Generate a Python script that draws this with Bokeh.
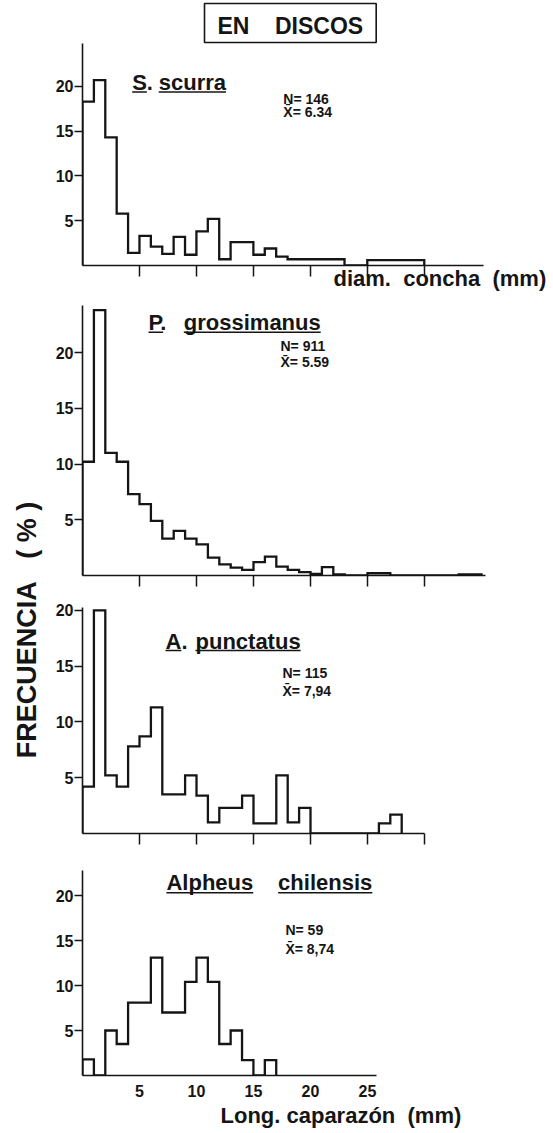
import math
from bokeh.plotting import figure
from bokeh.models import Range1d, FixedTicker, Label, Title, CustomJSTickFormatter
from bokeh.layouts import row, column
from bokeh.embed import file_html
from bokeh.resources import INLINE

# ---------------- data ----------------
# S. scurra : diam. concha (mm), % frequency per class
scurra_edges = [0, 1, 2, 3, 4, 5, 6, 7, 8, 9, 10, 11, 12, 13, 15, 16, 17, 18, 23, 25, 30]
scurra_pct = [18.3, 20.7, 14.3, 5.8, 1.4, 3.3, 2.1, 1.3, 3.2, 1.2, 3.8, 5.2, 0.7, 2.6,
              1.2, 1.9, 1.0, 0.7, 0.0, 0.6]

# P. grossimanus : Long. caparazón (mm)
gross_edges = [0, 1, 2, 3, 4, 5, 6, 7, 8, 9, 10, 11, 12, 13, 14, 15, 16, 17, 18, 19, 20,
               21, 22, 23, 25, 27, 33, 35]
gross_pct = [10.2, 23.8, 11.0, 10.2, 7.3, 6.4, 4.9, 3.3, 4.0, 3.3, 2.8, 1.6, 1.0, 0.7,
             0.5, 1.2, 1.7, 0.8, 0.5, 0.3, 0.15, 0.75, 0.1, 0.0, 0.2, 0.0, 0.1]

# A. punctatus
punct_edges = [0, 1, 2, 3, 4, 5, 6, 7, 9, 10, 11, 12, 14, 15, 17, 18, 19, 20, 26, 27, 28]
punct_pct = [4.2, 20.0, 5.2, 4.2, 7.8, 8.7, 11.3, 3.5, 5.2, 3.4, 1.0, 2.3, 3.4, 0.9,
             5.2, 1.0, 2.3, 0.0, 0.9, 1.7]

# Alpheus chilensis
alph_edges = [0, 1, 2, 3, 4, 6, 7, 9, 10, 11, 12, 13, 14, 15, 16, 17]
alph_pct = [1.8, 0.0, 5.0, 3.5, 8.1, 13.1, 7.0, 10.4, 13.1, 10.4, 3.5, 5.0, 1.7, 0.0, 1.7]

y_ticks = [5, 10, 15, 20]
x_ticks_top = [5, 10, 15, 20, 25, 30]
x_ticks_bottom = [5, 10, 15, 20, 25]

NB = "\u00a0"
species = [("S.", "scurra"), ("P.", "grossimanus"), ("A.", "punctatus"), ("Alpheus", "chilensis")]
stats_n = ["N= 146", "N= 911", "N= 115", "N= 59"]
stats_mean = ["X\u0304= 6.34", "X\u0304= 5.59", "X\u0304= 7,94", "X\u0304= 8,74"]
title_text = "EN" + NB * 4 + "DISCOS"
xlabel_top = "diam." + NB * 2 + "concha" + NB * 2 + "(mm)"
xlabel_bottom = "Long." + NB + "caparazón" + NB * 2 + "(mm)"
ylabel_text = "FRECUENCIA" + NB * 3 + "(" + NB + "%" + NB + ")"

# ---------------- style ----------------
FONT = "Liberation Sans"
INK = "#151515"
PXMM = 11.4          # px per mm on every panel
FL = 82              # page x of the frames' left edge
LEFT_W = 50
TOTAL_W = 503
PAGE_H = 1132


def step_xy(edges, pct):
    xs, ys = [edges[0]], [0.0]
    for i, h in enumerate(pct):
        xs += [edges[i], edges[i + 1]]
        ys += [h, h]
    xs.append(edges[-1])
    ys.append(0.0)
    return xs, ys


def make_panel(edges, pct, x_end, fh, ppu, base, top_b, bot_b, xticks, labels_on):
    fw = round(x_end * PXMM)
    y_end = fh / ppu
    p = figure(frame_width=fw, frame_height=fh,
               x_range=Range1d(0, x_end), y_range=Range1d(0, y_end),
               min_border_left=FL - LEFT_W, min_border_right=TOTAL_W - (FL - LEFT_W) - fw,
               min_border_top=top_b, min_border_bottom=bot_b,
               toolbar_location=None, output_backend="svg",
               background_fill_color="white", border_fill_color="white",
               outline_line_color=None)
    p.grid.visible = False
    for ax in (p.xaxis[0], p.yaxis[0]):
        ax.axis_line_color = INK
        ax.axis_line_width = 1.6
        ax.major_tick_line_color = INK
        ax.major_tick_line_width = 1.5
        ax.minor_tick_line_color = None
        ax.major_tick_in = 0
        ax.major_label_text_font = FONT
        ax.major_label_text_font_style = "bold"
        ax.major_label_text_font_size = "16px"
        ax.major_label_text_color = INK
    p.yaxis.ticker = FixedTicker(ticks=y_ticks)
    p.yaxis.major_tick_out = 8
    p.yaxis.major_label_standoff = 1
    p.xaxis.ticker = FixedTicker(ticks=xticks)
    if labels_on:
        p.xaxis.major_tick_out = 0
        p.xaxis.major_label_standoff = 9
    else:
        p.xaxis.major_tick_out = 11
        p.xaxis.major_label_standoff = 0
        p.xaxis.major_label_text_font_size = "1px"
        p.xaxis.formatter = CustomJSTickFormatter(code="return ''")
    xs, ys = step_xy(edges, pct)
    p.line(xs, ys, line_color=INK, line_width=2.3, line_join="miter")

    def gx(px):
        return (px - FL) / PXMM

    def gy(py):
        return (base - py) / ppu

    p._gx, p._gy = gx, gy
    return p


def add_text(p, px, py, text, size, align="left"):
    p.add_layout(Label(x=p._gx(px), y=p._gy(py), text=text, text_font=FONT,
                       text_font_style="bold", text_font_size=f"{size}px",
                       text_color=INK, text_align=align, text_baseline="middle"))


def underline(p, px0, px1, py):
    p.segment(x0=[p._gx(px0)], y0=[p._gy(py)], x1=[p._gx(px1)], y1=[p._gy(py)],
              line_color=INK, line_width=1.6)


def species_label(p, i, px_a, px_b, py_mid, py_ul, wa, wb):
    a, b = species[i]
    add_text(p, px_a, py_mid, a, 22)
    add_text(p, px_b, py_mid, b, 22)
    underline(p, px_a, px_a + wa, py_ul)
    underline(p, px_b, px_b + wb, py_ul)


def stats_label(p, i, px, py1, py2):
    add_text(p, px, py1, stats_n[i], 14)
    add_text(p, px, py2, stats_mean[i], 14)


def side_title(p, text, size, where, align, offset, standoff, **kw):
    t = Title(text=text, text_font=FONT, text_font_style="bold",
              text_font_size=f"{size}px", text_color=INK, align=align,
              offset=offset, **kw)
    try:
        t.standoff = standoff
    except Exception:
        t.standoff = 0
    p.add_layout(t, where)


# Panel 1 : S. scurra  (frame 43..265)
p1 = make_panel(scurra_edges, scurra_pct, 35.2, 222, 8.96, 265, 43, 38, x_ticks_top, False)
species_label(p1, 0, 131.7, 158.3, 82.2, 91.5, 14.7, 67.3)
stats_label(p1, 0, 283, 98, 111)
side_title(p1, title_text, 23, "above", "left", 204 - FL, 2,
           border_line_color=INK, border_line_width=1.6, background_fill_color="white",
           padding=dict(left=13, right=13, top=9, bottom=4))
side_title(p1, xlabel_top, 22, "below", "left", 333 - FL, -28)

# Panel 2 : P. grossimanus (frame 305..575)
p2 = make_panel(gross_edges, gross_pct, 35.35, 270, 11.15, 575, 2, 25, x_ticks_top, False)
species_label(p2, 1, 148, 183.3, 321.5, 331.7, 14.7, 136.9)
stats_label(p2, 1, 280, 345.3, 361.7)

# Panel 3 : A. punctatus (frame 607..833)
p3 = make_panel(punct_edges, punct_pct, 30.0, 226, 11.16, 833, 7, 25, x_ticks_top, False)
species_label(p3, 2, 165, 195, 640.5, 650, 15.9, 105.1)
stats_label(p3, 2, 282, 672.3, 690)

# Panel 4 : Alpheus chilensis (frame 870..1075)
p4 = make_panel(alph_edges, alph_pct, 25.8, 205, 9.0, 1075, 12, 57, x_ticks_bottom, True)
species_label(p4, 3, 166, 277.7, 881.5, 892.3, 86.8, 94.2)
stats_label(p4, 3, 285, 929, 948)
side_title(p4, xlabel_bottom, 22, "below", "left", 220 - FL, 2)

# Left strip with the rotated y title
left = figure(width=LEFT_W, height=PAGE_H, x_range=Range1d(0, LEFT_W), y_range=Range1d(0, PAGE_H),
              min_border=0, toolbar_location=None, output_backend="svg",
              x_axis_location=None, y_axis_location=None,
              outline_line_color=None, background_fill_color="white",
              border_fill_color="white")
left.grid.visible = False
left.add_layout(Label(x=26, y=PAGE_H - 629.5, text=ylabel_text, text_font=FONT,
                      text_font_style="bold", text_font_size="27px", text_color=INK,
                      text_align="center", text_baseline="middle", angle=math.pi / 2))

layout = row(left, column(p1, p2, p3, p4))

open("out.html", "w").write(file_html(layout, INLINE))
